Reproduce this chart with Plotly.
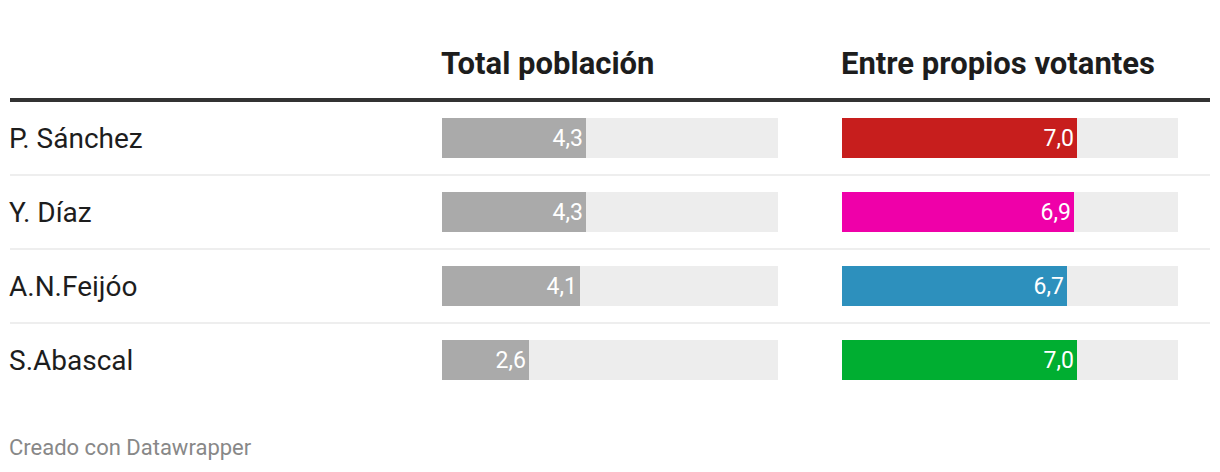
import plotly.graph_objects as go

candidates = ["P. Sánchez", "Y. Díaz", "A.N.Feijóo", "S.Abascal"]
total_poblacion = [4.3, 4.3, 4.1, 2.6]
propios_votantes = [7.0, 6.9, 6.7, 7.0]
party_colors = ["#c71e1d", "#ef00a9", "#2d90bd", "#00ae31"]
col_titles = ["Total población", "Entre propios votantes"]
scale_max = 10
footer = "Creado con Datawrapper"

W, H = 1220, 472
FONT = "Roboto"

def fmt(v):
    return f"{v:.1f}".replace(".", ",")

fig = go.Figure()

# background tracks
for xa in ["x", "x2"]:
    fig.add_trace(go.Bar(
        x=[scale_max] * len(candidates), y=candidates, orientation="h",
        marker=dict(color="#ededed", line=dict(width=0)), width=0.54,
        xaxis=xa, yaxis="y", hoverinfo="skip", showlegend=False,
    ))

fig.add_trace(go.Bar(
    x=total_poblacion, y=candidates, orientation="h",
    marker=dict(color="#aaaaaa", line=dict(width=0)), width=0.54,
    text=[fmt(v) for v in total_poblacion], textposition="inside",
    insidetextanchor="end", constraintext="none",
    insidetextfont=dict(family=FONT, size=23, color="white"),
    xaxis="x", yaxis="y", showlegend=False,
))
fig.add_trace(go.Bar(
    x=propios_votantes, y=candidates, orientation="h",
    marker=dict(color=party_colors, line=dict(width=0)), width=0.54,
    text=[fmt(v) for v in propios_votantes], textposition="inside",
    insidetextanchor="end", constraintext="none",
    insidetextfont=dict(family=FONT, size=23, color="white"),
    xaxis="x2", yaxis="y", showlegend=False,
))

ax = dict(range=[0, scale_max], showgrid=False, zeroline=False,
          showticklabels=False, showline=False, fixedrange=True)
fig.update_layout(
    width=W, height=H,
    margin=dict(l=0, r=0, t=0, b=0),
    paper_bgcolor="white", plot_bgcolor="rgba(0,0,0,0)",
    barmode="overlay", bargap=0,
    font=dict(family=FONT),
    xaxis=dict(domain=[442 / W, 778 / W], anchor="y", **ax),
    xaxis2=dict(domain=[842 / W, 1178 / W], anchor="y", **ax),
    yaxis=dict(domain=[1 - 397 / H, 1 - 101 / H], range=[len(candidates) - 0.5, -0.5],
               type="category", categoryarray=candidates,
               showgrid=False, zeroline=False, showticklabels=False, fixedrange=True),
)

shapes = [dict(type="line", xref="paper", yref="paper", x0=10 / W, x1=1210 / W,
               y0=1 - 100 / H, y1=1 - 100 / H, line=dict(color="#333333", width=4))]
for i in range(len(candidates) - 1):
    shapes.append(dict(type="line", xref="paper", yref="y", x0=10 / W, x1=1210 / W,
                       y0=i + 0.5, y1=i + 0.5, line=dict(color="#e8e8e8", width=1.5)))
fig.update_layout(shapes=shapes)

ann = []
for c in candidates:
    ann.append(dict(x=10 / W, y=c, xref="paper", yref="y", text=c, showarrow=False,
                    xanchor="left", yanchor="middle", xshift=-3,
                    font=dict(family=FONT, size=28, color="#1d1d1d")))
for t, x0 in zip(col_titles, [442, 842]):
    ann.append(dict(x=x0 / W, y=1 - 64 / H, xref="paper", yref="paper", text=f"<b>{t}</b>",
                    showarrow=False, xanchor="left", yanchor="middle", xshift=-3,
                    font=dict(family=FONT, size=31, color="#1d1d1d")))
ann.append(dict(x=10 / W, y=1 - 447 / H, xref="paper", yref="paper", text=footer,
                showarrow=False, xanchor="left", yanchor="middle", xshift=-3,
                font=dict(family=FONT, size=22, color="#888888")))
fig.update_layout(annotations=ann)

fig.write_html("out.html", config={"displayModeBar": False})
